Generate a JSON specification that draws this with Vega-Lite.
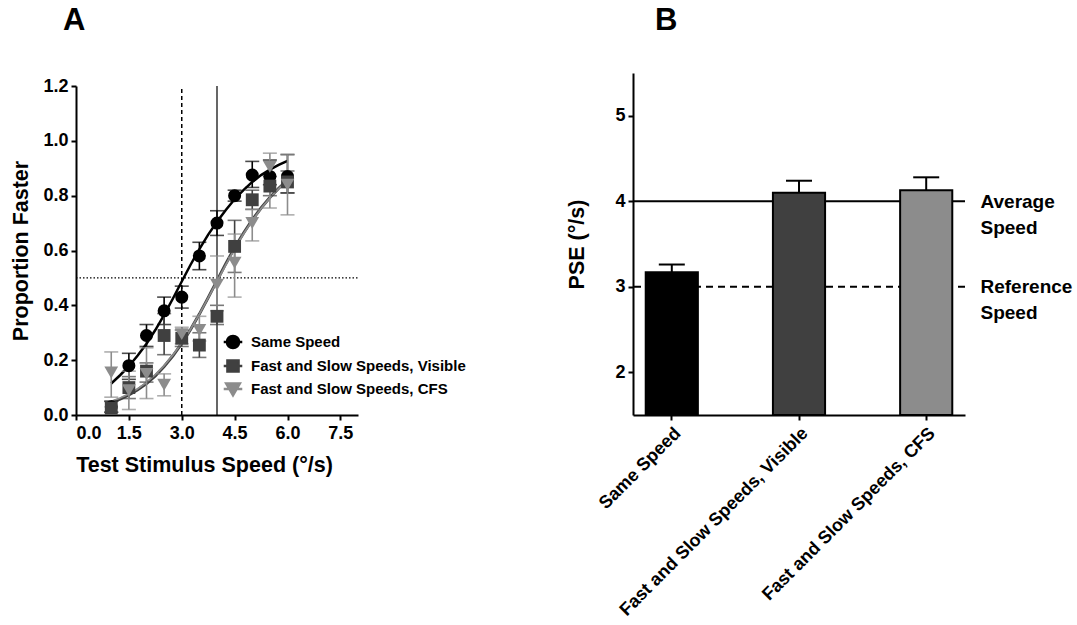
{
  "$schema": "https://vega.github.io/schema/vega-lite/v6.json",
  "background": "white",
  "padding": {"left": 10, "top": 5, "right": 2, "bottom": 5},
  "datasets": {
    "points": [
      {"series": "Same Speed", "x": 1, "p": 0.03, "lo": 0.01, "hi": 0.05},
      {"series": "Same Speed", "x": 1.5, "p": 0.18, "lo": 0.13, "hi": 0.225},
      {"series": "Same Speed", "x": 2, "p": 0.29, "lo": 0.25, "hi": 0.33},
      {"series": "Same Speed", "x": 2.5, "p": 0.38, "lo": 0.33, "hi": 0.43},
      {"series": "Same Speed", "x": 3, "p": 0.43, "lo": 0.39, "hi": 0.47},
      {"series": "Same Speed", "x": 3.5, "p": 0.58, "lo": 0.53, "hi": 0.63},
      {"series": "Same Speed", "x": 4, "p": 0.7, "lo": 0.655, "hi": 0.745},
      {"series": "Same Speed", "x": 4.5, "p": 0.8, "lo": 0.78, "hi": 0.82},
      {"series": "Same Speed", "x": 5, "p": 0.875, "lo": 0.83, "hi": 0.925},
      {"series": "Same Speed", "x": 5.5, "p": 0.87, "lo": 0.84, "hi": 0.93},
      {"series": "Same Speed", "x": 6, "p": 0.87, "lo": 0.81, "hi": 0.95},
      {"series": "Fast and Slow Speeds, Visible", "x": 1, "p": 0.025, "lo": 0.01, "hi": 0.05},
      {"series": "Fast and Slow Speeds, Visible", "x": 1.5, "p": 0.1, "lo": 0.06, "hi": 0.14},
      {"series": "Fast and Slow Speeds, Visible", "x": 2, "p": 0.16, "lo": 0.12, "hi": 0.19},
      {"series": "Fast and Slow Speeds, Visible", "x": 2.5, "p": 0.29, "lo": 0.22, "hi": 0.37},
      {"series": "Fast and Slow Speeds, Visible", "x": 3, "p": 0.28, "lo": 0.25, "hi": 0.31},
      {"series": "Fast and Slow Speeds, Visible", "x": 3.5, "p": 0.255, "lo": 0.21, "hi": 0.3},
      {"series": "Fast and Slow Speeds, Visible", "x": 4, "p": 0.36, "lo": 0.33, "hi": 0.4},
      {"series": "Fast and Slow Speeds, Visible", "x": 4.5, "p": 0.615, "lo": 0.52, "hi": 0.71},
      {"series": "Fast and Slow Speeds, Visible", "x": 5, "p": 0.785, "lo": 0.75, "hi": 0.82},
      {"series": "Fast and Slow Speeds, Visible", "x": 5.5, "p": 0.835, "lo": 0.8, "hi": 0.87},
      {"series": "Fast and Slow Speeds, Visible", "x": 6, "p": 0.85, "lo": 0.81, "hi": 0.89},
      {"series": "Fast and Slow Speeds, CFS", "x": 1, "p": 0.155, "lo": 0.065, "hi": 0.23},
      {"series": "Fast and Slow Speeds, CFS", "x": 1.5, "p": 0.09, "lo": 0.02, "hi": 0.16},
      {"series": "Fast and Slow Speeds, CFS", "x": 2, "p": 0.15, "lo": 0.06, "hi": 0.245},
      {"series": "Fast and Slow Speeds, CFS", "x": 2.5, "p": 0.11, "lo": 0.07, "hi": 0.15},
      {"series": "Fast and Slow Speeds, CFS", "x": 3, "p": 0.295, "lo": 0.26, "hi": 0.32},
      {"series": "Fast and Slow Speeds, CFS", "x": 3.5, "p": 0.31, "lo": 0.27, "hi": 0.36},
      {"series": "Fast and Slow Speeds, CFS", "x": 4, "p": 0.475, "lo": 0.38, "hi": 0.58},
      {"series": "Fast and Slow Speeds, CFS", "x": 4.5, "p": 0.555, "lo": 0.43, "hi": 0.66},
      {"series": "Fast and Slow Speeds, CFS", "x": 5, "p": 0.7, "lo": 0.635, "hi": 0.75},
      {"series": "Fast and Slow Speeds, CFS", "x": 5.5, "p": 0.905, "lo": 0.755, "hi": 0.955},
      {"series": "Fast and Slow Speeds, CFS", "x": 6, "p": 0.84, "lo": 0.73, "hi": 0.95}
    ],
    "curves": [
      {"series": "Same Speed", "x": 1.0, "p": 0.115},
      {"series": "Same Speed", "x": 1.25, "p": 0.145},
      {"series": "Same Speed", "x": 1.5, "p": 0.178},
      {"series": "Same Speed", "x": 1.75, "p": 0.217},
      {"series": "Same Speed", "x": 2.0, "p": 0.26},
      {"series": "Same Speed", "x": 2.25, "p": 0.31},
      {"series": "Same Speed", "x": 2.5, "p": 0.365},
      {"series": "Same Speed", "x": 2.75, "p": 0.425},
      {"series": "Same Speed", "x": 3.0, "p": 0.487},
      {"series": "Same Speed", "x": 3.25, "p": 0.548},
      {"series": "Same Speed", "x": 3.5, "p": 0.605},
      {"series": "Same Speed", "x": 3.75, "p": 0.658},
      {"series": "Same Speed", "x": 4.0, "p": 0.705},
      {"series": "Same Speed", "x": 4.25, "p": 0.748},
      {"series": "Same Speed", "x": 4.5, "p": 0.787},
      {"series": "Same Speed", "x": 4.75, "p": 0.82},
      {"series": "Same Speed", "x": 5.0, "p": 0.85},
      {"series": "Same Speed", "x": 5.25, "p": 0.875},
      {"series": "Same Speed", "x": 5.5, "p": 0.895},
      {"series": "Same Speed", "x": 5.75, "p": 0.912},
      {"series": "Same Speed", "x": 6.0, "p": 0.927},
      {"series": "Fast and Slow Speeds, Visible", "x": 1.0, "p": 0.046},
      {"series": "Fast and Slow Speeds, Visible", "x": 1.25, "p": 0.058},
      {"series": "Fast and Slow Speeds, Visible", "x": 1.5, "p": 0.073},
      {"series": "Fast and Slow Speeds, Visible", "x": 1.75, "p": 0.092},
      {"series": "Fast and Slow Speeds, Visible", "x": 2.0, "p": 0.115},
      {"series": "Fast and Slow Speeds, Visible", "x": 2.25, "p": 0.143},
      {"series": "Fast and Slow Speeds, Visible", "x": 2.5, "p": 0.177},
      {"series": "Fast and Slow Speeds, Visible", "x": 2.75, "p": 0.216},
      {"series": "Fast and Slow Speeds, Visible", "x": 3.0, "p": 0.261},
      {"series": "Fast and Slow Speeds, Visible", "x": 3.25, "p": 0.312},
      {"series": "Fast and Slow Speeds, Visible", "x": 3.5, "p": 0.368},
      {"series": "Fast and Slow Speeds, Visible", "x": 3.75, "p": 0.428},
      {"series": "Fast and Slow Speeds, Visible", "x": 4.0, "p": 0.49},
      {"series": "Fast and Slow Speeds, Visible", "x": 4.25, "p": 0.552},
      {"series": "Fast and Slow Speeds, Visible", "x": 4.5, "p": 0.61},
      {"series": "Fast and Slow Speeds, Visible", "x": 4.75, "p": 0.663},
      {"series": "Fast and Slow Speeds, Visible", "x": 5.0, "p": 0.712},
      {"series": "Fast and Slow Speeds, Visible", "x": 5.25, "p": 0.755},
      {"series": "Fast and Slow Speeds, Visible", "x": 5.5, "p": 0.793},
      {"series": "Fast and Slow Speeds, Visible", "x": 5.75, "p": 0.827},
      {"series": "Fast and Slow Speeds, Visible", "x": 6.0, "p": 0.857},
      {"series": "Fast and Slow Speeds, CFS", "x": 1.0, "p": 0.05},
      {"series": "Fast and Slow Speeds, CFS", "x": 1.25, "p": 0.062},
      {"series": "Fast and Slow Speeds, CFS", "x": 1.5, "p": 0.077},
      {"series": "Fast and Slow Speeds, CFS", "x": 1.75, "p": 0.096},
      {"series": "Fast and Slow Speeds, CFS", "x": 2.0, "p": 0.119},
      {"series": "Fast and Slow Speeds, CFS", "x": 2.25, "p": 0.147},
      {"series": "Fast and Slow Speeds, CFS", "x": 2.5, "p": 0.18},
      {"series": "Fast and Slow Speeds, CFS", "x": 2.75, "p": 0.219},
      {"series": "Fast and Slow Speeds, CFS", "x": 3.0, "p": 0.263},
      {"series": "Fast and Slow Speeds, CFS", "x": 3.25, "p": 0.313},
      {"series": "Fast and Slow Speeds, CFS", "x": 3.5, "p": 0.368},
      {"series": "Fast and Slow Speeds, CFS", "x": 3.75, "p": 0.427},
      {"series": "Fast and Slow Speeds, CFS", "x": 4.0, "p": 0.487},
      {"series": "Fast and Slow Speeds, CFS", "x": 4.25, "p": 0.548},
      {"series": "Fast and Slow Speeds, CFS", "x": 4.5, "p": 0.606},
      {"series": "Fast and Slow Speeds, CFS", "x": 4.75, "p": 0.66},
      {"series": "Fast and Slow Speeds, CFS", "x": 5.0, "p": 0.709},
      {"series": "Fast and Slow Speeds, CFS", "x": 5.25, "p": 0.753},
      {"series": "Fast and Slow Speeds, CFS", "x": 5.5, "p": 0.792},
      {"series": "Fast and Slow Speeds, CFS", "x": 5.75, "p": 0.826},
      {"series": "Fast and Slow Speeds, CFS", "x": 6.0, "p": 0.856}
    ],
    "refA": [
      {"kind": "reference", "x": 3, "p": 0.5},
      {"kind": "average", "x": 4, "p": 0.5}
    ],
    "pse": [
      {"cond": "Same Speed", "pse": 3.17, "hi": 3.26},
      {"cond": "Fast and Slow Speeds, Visible", "pse": 4.1, "hi": 4.24},
      {"cond": "Fast and Slow Speeds, CFS", "pse": 4.13, "hi": 4.28}
    ],
    "refs": [
      {"v": 4, "kind": "solid"},
      {"v": 3, "kind": "dashed"}
    ]
  },
  "config": {
    "font": "Liberation Sans",
    "view": {"stroke": null},
    "axis": {
      "grid": false,
      "labelFont": "Liberation Sans",
      "labelFontWeight": "bold",
      "labelFontSize": 18,
      "labelColor": "#000000",
      "titleFont": "Liberation Sans",
      "titleFontWeight": "bold",
      "titleFontSize": 21.5,
      "titleColor": "#000000",
      "domainColor": "#000000",
      "domainWidth": 2,
      "tickColor": "#000000",
      "tickWidth": 2,
      "tickSize": 5
    },
    "title": {"font": "Liberation Sans", "fontSize": 31, "fontWeight": "bold", "anchor": "start", "frame": "group", "color": "#000000"},
    "legend": {
      "labelFont": "Liberation Sans",
      "labelFontWeight": "bold",
      "labelFontSize": 15,
      "labelColor": "#000000"
    }
  },
  "spacing": 207,
  "hconcat": [
    {
      "title": {"text": "A", "dx": -13, "offset": 36},
      "width": 282,
      "height": 342,
      "layer": [
        {
          "data": {"name": "points"},
          "transform": [{"filter": {"field": "x", "lt": 0}}],
          "mark": {"type": "point", "filled": true, "opacity": 1},
          "encoding": {
            "x": {"field": "x", "type": "quantitative", "title": "Test Stimulus Speed (°/s)",
              "scale": {"domain": [0, 8], "nice": false, "zero": true},
              "axis": {"values": [0, 1.5, 3, 4.5, 6, 7.5], "format": ".1f", "labelPadding": 4, "titlePadding": 12, "titleX": 128}},
            "y": {"field": "p", "type": "quantitative", "title": "Proportion Faster",
              "scale": {"domain": [0, 1.2], "nice": false, "range": [342, 13]},
              "axis": {"values": [0, 0.2, 0.4, 0.6, 0.8, 1.0, 1.2], "format": ".1f", "labelPadding": 3, "titlePadding": 10}},
            "color": {"field": "series", "type": "nominal",
              "scale": {"domain": ["Same Speed", "Fast and Slow Speeds, Visible", "Fast and Slow Speeds, CFS"], "range": ["#000000", "#404040", "#8c8c8c"]},
              "legend": {"title": null, "orient": "none", "legendX": 148, "legendY": 260, "symbolSize": 220, "symbolStrokeWidth": 2.5, "symbolOpacity": 1, "rowPadding": 1, "labelOffset": 9, "padding": 0, "labelLimit": 400}},
            "stroke": {"field": "series", "type": "nominal",
              "scale": {"domain": ["Same Speed", "Fast and Slow Speeds, Visible", "Fast and Slow Speeds, CFS"], "range": ["#000000", "#404040", "#8c8c8c"]},
              "legend": {"title": null, "orient": "none", "legendX": 148, "legendY": 260, "symbolSize": 220, "symbolStrokeWidth": 2.5, "symbolOpacity": 1, "rowPadding": 1, "labelOffset": 9, "padding": 0, "labelLimit": 400}},
            "shape": {"field": "series", "type": "nominal",
              "scale": {"domain": ["Same Speed", "Fast and Slow Speeds, Visible", "Fast and Slow Speeds, CFS"],
                "range": [
                  "M-1.25,0H1.25M-0.82,0A0.82,0.82,0,1,1,0.82,0A0.82,0.82,0,1,1,-0.82,0Z",
                  "M-1.25,0H1.25M-0.75,-0.75H0.75V0.75H-0.75Z",
                  "M-1.25,0H1.25M-0.92,-0.75H0.92L0,0.85Z"
                ]},
              "legend": {"title": null, "orient": "none", "legendX": 148, "legendY": 260, "symbolSize": 220, "symbolStrokeWidth": 2.5, "symbolOpacity": 1, "rowPadding": 1, "labelOffset": 9, "padding": 0, "labelLimit": 400}}
          }
        },
        {
          "data": {"name": "refA"},
          "transform": [{"filter": {"field": "kind", "equal": "reference"}}],
          "mark": {"type": "rule", "strokeDash": [1.5, 2], "strokeWidth": 1.2, "color": "#000000"},
          "encoding": {
            "x": {"datum": 0, "type": "quantitative", "title": "Test Stimulus Speed (°/s)"},
            "x2": {"datum": 8},
            "y": {"field": "p", "type": "quantitative", "title": "Proportion Faster"}
          }
        },
        {
          "data": {"name": "refA"},
          "transform": [{"filter": {"field": "kind", "equal": "reference"}}],
          "mark": {"type": "rule", "strokeDash": [4, 3], "strokeWidth": 1.5, "color": "#000000"},
          "encoding": {
            "x": {"field": "x", "type": "quantitative", "title": "Test Stimulus Speed (°/s)"},
            "y": {"datum": 0, "type": "quantitative", "title": "Proportion Faster"},
            "y2": {"datum": 1.2}
          }
        },
        {
          "data": {"name": "refA"},
          "transform": [{"filter": {"field": "kind", "equal": "average"}}],
          "mark": {"type": "rule", "strokeWidth": 1.2, "color": "#000000"},
          "encoding": {
            "x": {"field": "x", "type": "quantitative", "title": "Test Stimulus Speed (°/s)"},
            "y": {"datum": 0, "type": "quantitative", "title": "Proportion Faster"},
            "y2": {"datum": 1.2}
          }
        },
        {
          "data": {"name": "curves"},
          "transform": [{"filter": {"field": "series", "equal": "Same Speed"}}],
          "mark": {"type": "line", "strokeWidth": 2.5, "color": "#000000"},
          "encoding": {
            "x": {"field": "x", "type": "quantitative", "title": "Test Stimulus Speed (°/s)"},
            "y": {"field": "p", "type": "quantitative", "title": "Proportion Faster"}
          }
        },
        {
          "data": {"name": "curves"},
          "transform": [{"filter": {"field": "series", "equal": "Fast and Slow Speeds, Visible"}}],
          "mark": {"type": "line", "strokeWidth": 3, "color": "#404040"},
          "encoding": {
            "x": {"field": "x", "type": "quantitative", "title": "Test Stimulus Speed (°/s)"},
            "y": {"field": "p", "type": "quantitative", "title": "Proportion Faster"}
          }
        },
        {
          "data": {"name": "curves"},
          "transform": [{"filter": {"field": "series", "equal": "Fast and Slow Speeds, CFS"}}],
          "mark": {"type": "line", "strokeWidth": 1.8, "color": "#8c8c8c"},
          "encoding": {
            "x": {"field": "x", "type": "quantitative", "title": "Test Stimulus Speed (°/s)"},
            "y": {"field": "p", "type": "quantitative", "title": "Proportion Faster"}
          }
        },
        {
          "data": {"name": "points"},
          "transform": [{"filter": {"field": "series", "equal": "Same Speed"}}],
          "mark": {"type": "errorbar", "ticks": {"size": 14}, "thickness": 1.6, "color": "#000000"},
          "encoding": {
            "x": {"field": "x", "type": "quantitative", "title": "Test Stimulus Speed (°/s)"},
            "y": {"field": "lo", "type": "quantitative", "title": "Proportion Faster"},
            "y2": {"field": "hi"}
          }
        },
        {
          "data": {"name": "points"},
          "transform": [{"filter": {"field": "series", "equal": "Fast and Slow Speeds, Visible"}}],
          "mark": {"type": "errorbar", "ticks": {"size": 14}, "thickness": 1.6, "color": "#404040"},
          "encoding": {
            "x": {"field": "x", "type": "quantitative", "title": "Test Stimulus Speed (°/s)"},
            "y": {"field": "lo", "type": "quantitative", "title": "Proportion Faster"},
            "y2": {"field": "hi"}
          }
        },
        {
          "data": {"name": "points"},
          "transform": [{"filter": {"field": "series", "equal": "Fast and Slow Speeds, CFS"}}],
          "mark": {"type": "errorbar", "ticks": {"size": 14}, "thickness": 1.6, "color": "#8c8c8c"},
          "encoding": {
            "x": {"field": "x", "type": "quantitative", "title": "Test Stimulus Speed (°/s)"},
            "y": {"field": "lo", "type": "quantitative", "title": "Proportion Faster"},
            "y2": {"field": "hi"}
          }
        },
        {
          "data": {"name": "points"},
          "transform": [{"filter": {"field": "series", "equal": "Same Speed"}}],
          "mark": {"type": "point", "shape": "circle", "filled": true, "opacity": 1, "size": 170, "color": "#000000"},
          "encoding": {
            "x": {"field": "x", "type": "quantitative", "title": "Test Stimulus Speed (°/s)"},
            "y": {"field": "p", "type": "quantitative", "title": "Proportion Faster"}
          }
        },
        {
          "data": {"name": "points"},
          "transform": [{"filter": {"field": "series", "equal": "Fast and Slow Speeds, Visible"}}],
          "mark": {"type": "point", "shape": "square", "filled": true, "opacity": 1, "size": 165, "color": "#404040"},
          "encoding": {
            "x": {"field": "x", "type": "quantitative", "title": "Test Stimulus Speed (°/s)"},
            "y": {"field": "p", "type": "quantitative", "title": "Proportion Faster"}
          }
        },
        {
          "data": {"name": "points"},
          "transform": [{"filter": {"field": "series", "equal": "Fast and Slow Speeds, CFS"}}],
          "mark": {"type": "point", "shape": "triangle-down", "filled": true, "opacity": 1, "size": 190, "color": "#8c8c8c"},
          "encoding": {
            "x": {"field": "x", "type": "quantitative", "title": "Test Stimulus Speed (°/s)"},
            "y": {"field": "p", "type": "quantitative", "title": "Proportion Faster"}
          }
        }
      ]
    },
    {
      "title": {"text": "B", "dx": 22, "offset": 36},
      "width": 332,
      "height": 342,
      "layer": [
        {
          "data": {"name": "refs"},
          "mark": {"type": "rule", "strokeWidth": 2, "color": "#000000"},
          "encoding": {
            "y": {"field": "v", "type": "quantitative", "title": null,
              "scale": {"domain": [1.5, 5.5], "nice": false, "zero": false},
              "axis": {"orient": "right", "values": [3, 4], "ticks": false, "tickSize": 0, "domain": false,
                "labelExpr": "datum.value == 4 ? ['Average', 'Speed'] : ['Reference', 'Speed']",
                "labelAlign": "left", "labelBaseline": "middle", "labelPadding": 15, "labelFontSize": 19, "labelLineHeight": 26, "title": null}},
            "strokeDash": {"field": "kind", "type": "nominal", "legend": null,
              "scale": {"domain": ["solid", "dashed"], "range": [[1, 0], [7, 5]]}}
          }
        },
        {
          "data": {"name": "pse"},
          "mark": {"type": "bar", "stroke": "#000000", "strokeWidth": 2},
          "encoding": {
            "x": {"field": "cond", "type": "nominal", "sort": null, "title": null,
              "scale": {"paddingInner": 0.59, "paddingOuter": 0.1},
              "axis": {"labelAngle": -45, "labelPadding": 4, "labelLimit": 400}},
            "y": {"field": "pse", "type": "quantitative", "title": "PSE (°/s)",
              "scale": {"domain": [1.5, 5.5], "nice": false, "zero": false},
              "axis": {"values": [2, 3, 4, 5], "labelPadding": 3, "titlePadding": 26}},
            "y2": {"datum": 1.5},
            "color": {"field": "cond", "type": "nominal", "legend": null,
              "scale": {"domain": ["Same Speed", "Fast and Slow Speeds, Visible", "Fast and Slow Speeds, CFS"], "range": ["#000000", "#404040", "#808080"]}}
          }
        },
        {
          "data": {"name": "pse"},
          "mark": {"type": "rule", "strokeWidth": 2, "color": "#000000"},
          "encoding": {
            "x": {"field": "cond", "type": "nominal", "sort": null, "title": null, "axis": {"labelAngle": -45, "labelPadding": 4, "labelLimit": 400}},
            "y": {"field": "pse", "type": "quantitative", "axis": null},
            "y2": {"field": "hi"}
          }
        },
        {
          "data": {"name": "pse"},
          "mark": {"type": "tick", "size": 26, "thickness": 2, "color": "#000000", "opacity": 1},
          "encoding": {
            "x": {"field": "cond", "type": "nominal", "sort": null, "title": null, "axis": {"labelAngle": -45, "labelPadding": 4, "labelLimit": 400}},
            "y": {"field": "hi", "type": "quantitative", "axis": null}
          }
        }
      ],
      "resolve": {"axis": {"y": "independent"}}
    }
  ]
}
